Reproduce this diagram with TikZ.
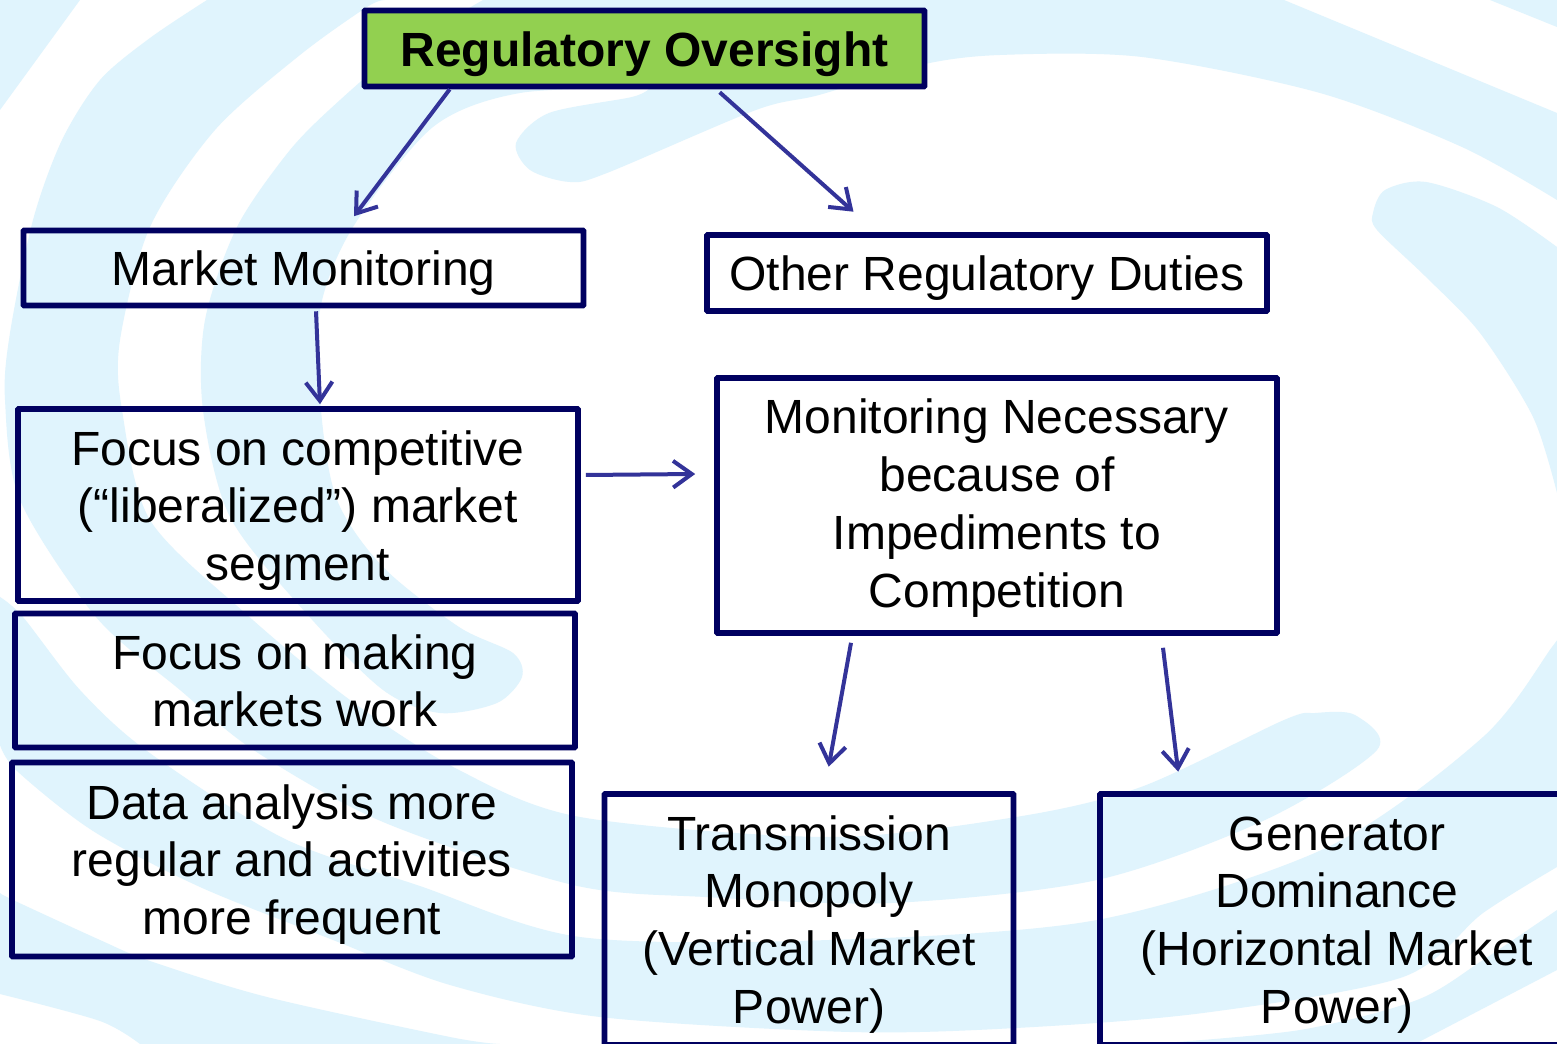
\documentclass[tikz,border=0pt]{standalone}
\usepackage{fontspec}
\setmainfont{Liberation Sans}
\usetikzlibrary{arrows.meta,calc}
\definecolor{swirl}{HTML}{E0F4FD}
\definecolor{navy}{HTML}{000060}
\definecolor{leaf}{HTML}{92D050}
\definecolor{arrowblue}{HTML}{333399}
\newcommand\fh[1]{\rule{0pt}{#1pt}}
\newcommand\ld{\rule[-10pt]{0pt}{10pt}}
\tikzset{
  px/.style 2 args={minimum width=#1*0.75pt,minimum height=#2*0.75pt},
  box/.style={draw=navy,line width=4.2pt,rounded corners=0.5pt,align=center,inner sep=0pt,text=black,
    font=\fontsize{36}{43.3}\selectfont},
  titlebox/.style={box,fill=leaf,font=\fontsize{36}{43.3}\selectfont\bfseries},
  arr/.style={draw=arrowblue,line width=3pt,-{Straight Barb[length=14pt,width=20pt,line width=3pt]}},
  band/.style={fill=swirl,draw=none}
}
\begin{document}
\begin{tikzpicture}[x=0.75pt,y=-0.75pt]
\path[use as bounding box,clip] (0,0) rectangle (1557,1044);
\fill[white] (0,0) rectangle (1557,1044);
% corner pieces
\fill[band] (0,0) -- (80,0) -- (0,110) -- cycle;
\fill[band] (1490,0) -- (1557,27) -- (1557,0) -- cycle;
% left vertical band continuing as the tip band
\fill[band] plot[smooth] coordinates {(385,0) (367,7) (300,55) (215,130) (150,227) (120,340) (122,410) (150,520) (245,613) (350,700) (459,770) (580,817) (829,837) (1016,817) (1141,787) (1284,720) (1315,713) (1355,715) (1377,750) (1265,820) (1097,880) (891,903) (705,897) (573,885) (383,822) (255,751) (180,690) (96,617) (20,500) (5,400) (10,333) (33,220) (62,140) (100,80) (150,38) (207,0)} -- cycle;
% inner band with comma and top sweep
\fill[band] plot[smooth] coordinates {(483,0) (400,50) (340,100) (290,150) (237,227) (205,320) (203,410) (230,517) (306,613) (383,690) (440,713) (497,703) (522,677) (513,653) (459,627) (383,567) (337,500) (321,410) (320,310) (353,227) (433,127) (520,93) (650,88)}
  -- plot[smooth] coordinates {(650,88) (632,97) (549,113) (516,143) (530,170) (570,182) (607,173) (756,110) (819,95) (920,65) (1000,55) (1142,57) (1320,93) (1462,147) (1557,200)}
  -- (1557,113) -- (1284,0) -- cycle;
% right comma
\fill[band] plot[smooth] coordinates {(1557,247) (1497,207) (1426,182) (1385,190) (1373,213) (1377,230) (1426,277) (1480,333) (1533,417) (1557,493)} -- cycle;
% lower sweeping band
\fill[band] plot[smooth] coordinates {(0,597) (23,617) (80,690) (147,751) (283,838) (417,885) (580,937) (829,940) (1097,920) (1328,847) (1483,737) (1552,647) (1557,640)}
  -- plot[smooth] coordinates {(1557,867) (1483,913) (1403,977) (1203,1013) (1016,1028) (850,1032) (600,1017) (450,985) (333,940) (200,887) (93,831) (17,771) (0,745)} -- cycle;
% bottom left band
\fill[band] plot[smooth] coordinates {(0,893) (13,900) (100,940) (150,961) (267,997) (450,1037) (500,1044)} -- plot[smooth] coordinates {(140,1044) (100,1021) (0,994)} -- cycle;
% bottom right band
\fill[band] plot[smooth] coordinates {(1557,910) (1483,960) (1417,1000) (1300,1030) (1150,1044)} -- plot[smooth] coordinates {(1415,1044) (1557,970)} -- cycle;

% boxes
\node[titlebox,px={560}{76}] (top) at (644.5,48.5) {\fh{37.75}Regulatory Oversight\ld};
\node[box,px={560}{75}] (mm) at (303.5,268) {\fh{37}Market Monitoring\ld};
\node[box,px={560}{76}] (other) at (987,273) {\fh{37}Other Regulatory Duties\ld};
\node[box,px={560}{192}] (focus) at (298,505) {\fh{36.6}Focus on competitive\\(“liberalized”) market\\segment\ld};
\node[box,px={560}{134}] (making) at (295,680.5) {\fh{36.05}Focus on making\\markets work\ld};
\node[box,px={560}{194}] (data) at (292,859.5) {\fh{35.85}Data analysis more\\regular and activities\\more frequent\ld};
\node[box,px={560}{255}] (nec) at (997,505.5) {\fh{32.65}Monitoring Necessary\\because of\\Impediments to\\Competition\ld};
\node[box,px={409}{251}] (trans) at (809,919.5) {\fh{35.65}Transmission\\Monopoly\\(Vertical Market\\Power)\ld};
\node[box,px={474}{251}] (gen) at (1337,919.5) {\fh{35.65}Generator\\Dominance\\(Horizontal Market\\Power)\ld};

% connectors
\draw[arr] ($(top.south west)+(88,0)$) -- ($(mm.north)+(50.5,-11.5)$);
\draw[arr] ($(top.south west)+(358,3)$) -- ($(other.north)+(-133.5,-20.5)$);
\draw[arr] ($(mm.south)+(12.5,3)$) -- ($(focus.north)+(22,-2)$);
\draw[arr] ($(focus.east)+(5,-30)$) -- ($(nec.west)+(-19,-31.5)$);
\draw[arr] ($(nec.south)+(-146,7)$) -- ($(trans.north)+(19.7,-24.5)$);
\draw[arr] ($(nec.south)+(166,12)$) -- ($(gen.north)+(-158.8,-19.5)$);
\end{tikzpicture}
\end{document}
